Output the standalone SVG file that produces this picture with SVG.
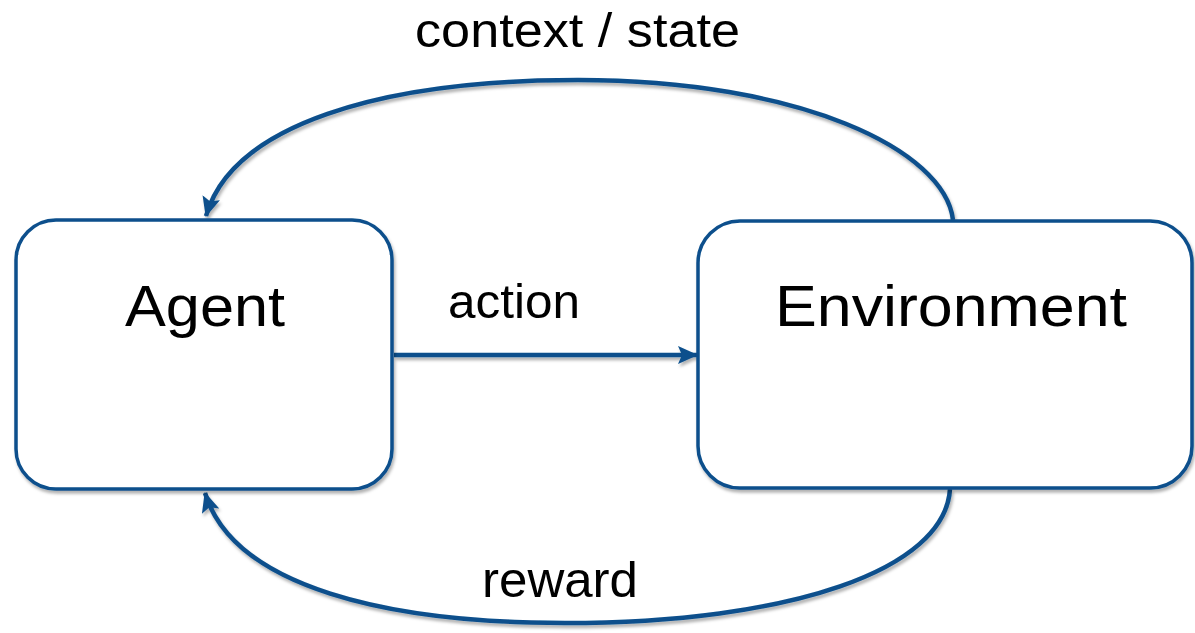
<svg xmlns="http://www.w3.org/2000/svg" width="1195" height="633" viewBox="0 0 1195 633">
  <style>
    .box { fill: #ffffff; stroke: #0b4f8c; stroke-width: 3.5; }
    .edge { fill: none; stroke: #0b4f8c; stroke-width: 4.5; }
    .lbl { font-family: "Liberation Sans", Arial, sans-serif; fill: #000000; }
  </style>
  <defs>
    <filter id="shade" x="-10%" y="-10%" width="120%" height="130%">
      <feDropShadow dx="1.5" dy="3" stdDeviation="1.8" flood-color="#000000" flood-opacity="0.3"/>
    </filter>
    <marker id="head" viewBox="0 0 20 18" refX="19" refY="9" markerWidth="20" markerHeight="18" markerUnits="userSpaceOnUse" orient="auto">
      <path d="M0,0 L20,9 L0,18 L4,9 Z" fill="#0b4f8c"/>
    </marker>
  </defs>
  <rect width="1195" height="633" fill="#ffffff"/>

  <g id="connectors" filter="url(#shade)">
    <!-- context / state: Environment back to Agent over the top -->
    <path class="edge" d="M953,220 C945,150 800,80 578,80 C380,80 232,125 206,216" marker-end="url(#head)"/>
    <!-- action: Agent to Environment -->
    <path class="edge" d="M394,355 L697,355" marker-end="url(#head)"/>
    <!-- reward: Environment back to Agent underneath -->
    <path class="edge" d="M950,489 C945,570 790,623 565,623 C390,623 234,588 205,493" marker-end="url(#head)"/>
  </g>

  <g id="agent">
    <rect class="box" x="16" y="220" width="376" height="269" rx="40" filter="url(#shade)"/>
    <text class="lbl" x="125" y="326" font-size="58" textLength="160" lengthAdjust="spacingAndGlyphs">Agent</text>
  </g>

  <g id="environment">
    <rect class="box" x="698" y="221" width="494" height="267" rx="42" filter="url(#shade)"/>
    <text class="lbl" x="775" y="326" font-size="58" textLength="352" lengthAdjust="spacingAndGlyphs">Environment</text>
  </g>

  <g id="labels">
    <text class="lbl" x="415" y="47" font-size="49" textLength="325" lengthAdjust="spacingAndGlyphs">context / state</text>
    <text class="lbl" x="448" y="318" font-size="48" textLength="132" lengthAdjust="spacingAndGlyphs">action</text>
    <text class="lbl" x="482" y="597" font-size="50" textLength="156" lengthAdjust="spacingAndGlyphs">reward</text>
  </g>
</svg>
